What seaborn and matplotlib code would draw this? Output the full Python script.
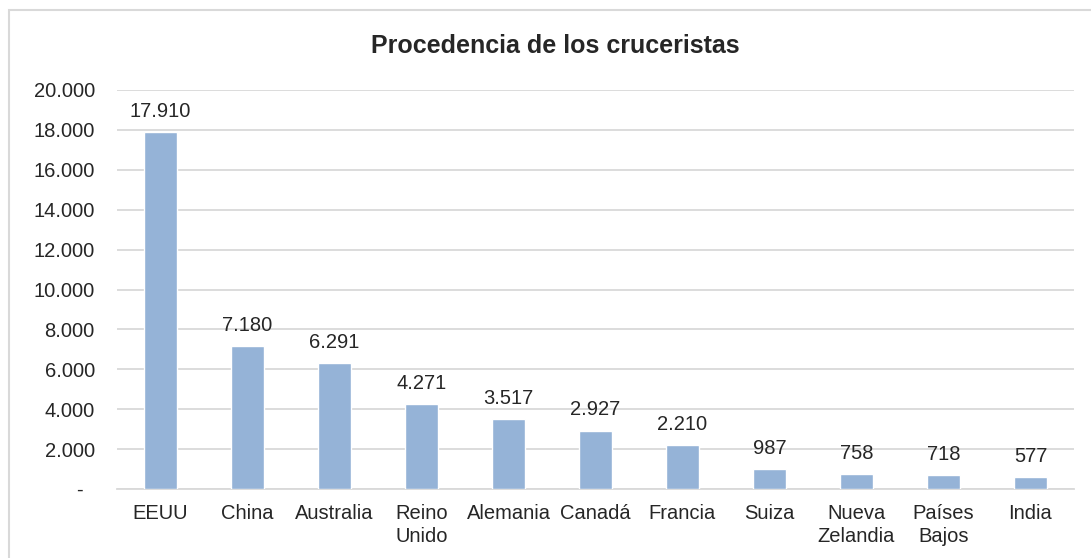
import numpy as np
import pandas as pd
import seaborn as sns
import matplotlib
matplotlib.use('Agg')
import matplotlib.pyplot as plt
from matplotlib.patches import Rectangle
from matplotlib.ticker import FuncFormatter

# data
paises = ['EEUU', 'China', 'Australia', 'Reino\nUnido', 'Alemania', 'Canadá',
          'Francia', 'Suiza', 'Nueva\nZelandia', 'Países\nBajos', 'India']
cruceristas = [17910, 7180, 6291, 4271, 3517, 2927, 2210, 987, 758, 718, 577]

df = pd.DataFrame({'pais': paises, 'cruceristas': cruceristas})

sns.set_style('white')
plt.rcParams['font.family'] = ['Liberation Sans', 'DejaVu Sans']
txt = '#262626'
grid = '#D9D9D9'


def miles(v, pos=None):
    # Excel style: dot as thousands separator, zero shown as a dash
    if v == 0:
        return '-  '
    return f'{int(v):,}'.replace(',', '.')


fig = plt.figure(figsize=(10.91, 5.58), dpi=100)
ax = fig.add_axes([117 / 1091, 1 - 489 / 558, 957 / 1091, 399 / 558])

sns.barplot(data=df, x='pais', y='cruceristas', color='#95B3D7', width=0.38,
            saturation=1, ax=ax, zorder=3)

ax.set_ylim(0, 20000)
ax.set_yticks(np.arange(0, 20001, 2000))
ax.yaxis.set_major_formatter(FuncFormatter(miles))
ax.set_xlabel('')
ax.set_ylabel('')
ax.grid(axis='y', color=grid, lw=1.3, zorder=0)
for s in ['top', 'right', 'left']:
    ax.spines[s].set_visible(False)
ax.spines['bottom'].set_color(grid)
ax.spines['bottom'].set_linewidth(1.3)
ax.tick_params(axis='y', length=0, pad=16, labelsize=14.5, labelcolor=txt)
ax.tick_params(axis='x', length=0, pad=11, labelsize=14.5, labelcolor=txt)
for lbl in ax.get_xticklabels():
    lbl.set_linespacing(1.25)

ax.bar_label(ax.containers[0], labels=[miles(v) for v in cruceristas],
             padding=8, fontsize=14.5, color=txt)

fig.text(555 / 1091, 1 - 46 / 558, 'Procedencia de los cruceristas',
         ha='center', va='center', fontsize=18, fontweight='bold', color=txt)

# light frame around the chart area
fig.patches.append(Rectangle((9 / 1091, -0.1), 1.2, 1 - 10 / 558 + 0.1,
                             transform=fig.transFigure, fill=False,
                             edgecolor=grid, lw=1.5))

fig.savefig('out.png', dpi=100)
